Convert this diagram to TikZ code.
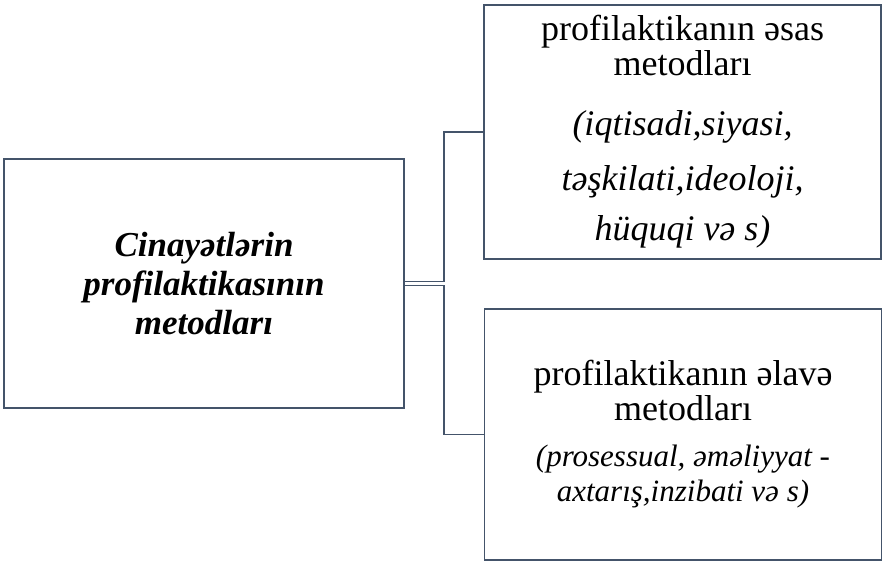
\documentclass[tikz,border=0pt]{standalone}
\usepackage{fontspec}
\setmainfont{Liberation Serif}
\definecolor{myslate}{RGB}{68,84,106}
\usetikzlibrary{positioning,calc}

\begin{document}
\begin{tikzpicture}[
  x=1pt, y=-1pt,
  line width=1.5pt,
  mybox/.style={
    draw=myslate,
    rectangle,
    align=center,
    inner sep=0pt,
    minimum width=#1
    },
  mylink/.style={draw=myslate}
]
\useasboundingbox (0,0) rectangle (883,561);

\node[mybox=400pt, minimum height=249pt, font=\fontsize{35}{39}\selectfont\bfseries\itshape] at (204,283.5)
  (methods)
  {Cinayətlərin\\ profilaktikasının\\ metodları};

\node[mybox=397pt, minimum height=254pt, font=\fontsize{36}{35}\selectfont] at (682.5,132)
  (basic)
  {
  profilaktikanın əsas\\
  metodları\\[25pt]
  \textit{(iqtisadi,siyasi,}\\[20pt]
  \textit{təşkilati,ideoloji,}\\[15pt]
  \textit{hüquqi və s)}
  };

\node[mybox=397pt, minimum height=251pt, font=\fontsize{36}{35}\selectfont] at (683,434.5)
  (extra)
  {
  profilaktikanın əlavə\\
  metodları\\[11pt]
  {\fontsize{31}{33}\selectfont\itshape (prosessual, əməliyyat -}\\
  {\fontsize{31}{33}\selectfont\itshape axtarış,inzibati və s)}
  };

% bracket connectors
\draw[mylink] ([yshift=2pt]methods.east) -- ++(39,0) |- (basic.west);
\draw[mylink] ([yshift=-2pt]methods.east) -- ++(39,0) |- (extra.west);
\end{tikzpicture}
\end{document}
